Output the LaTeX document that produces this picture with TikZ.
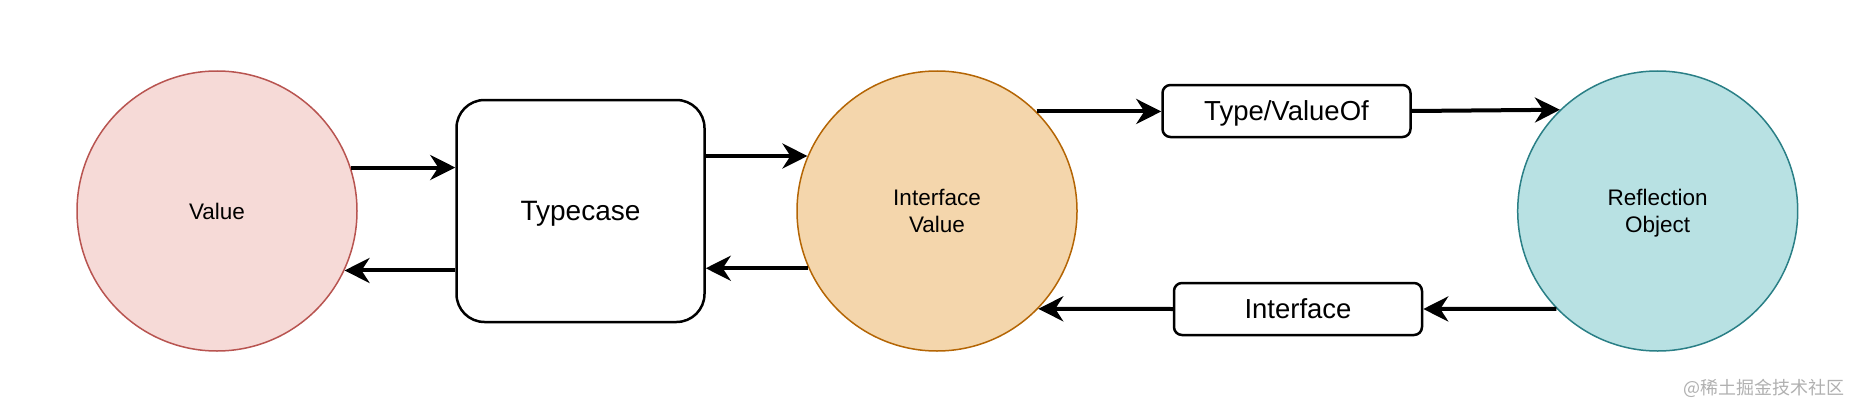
\documentclass[tikz,border=0pt]{standalone}
\usepackage{fontspec}
\setmainfont{Liberation Sans}
\newfontfamily\cjk{Noto Sans CJK SC}
\usetikzlibrary{arrows.meta}
\definecolor{valfill}{HTML}{F6DAD7}
\definecolor{valdraw}{HTML}{B85450}
\definecolor{ivfill}{HTML}{F4D6AC}
\definecolor{ivdraw}{HTML}{B46504}
\definecolor{rofill}{HTML}{B8E1E3}
\definecolor{rodraw}{HTML}{2A7F86}
\definecolor{wmgray}{HTML}{B0B0B0}
\tikzset{
  circ/.style={circle, draw, line width=1.5pt, minimum size=280pt, inner sep=0pt, align=center,
    text depth=0pt, font=\fontsize{22.5}{27}\selectfont},
  bigbox/.style={rectangle, rounded corners=28pt, draw, line width=2.5pt, minimum width=248pt,
    minimum height=222pt, text depth=0pt, font=\fontsize{28}{32}\selectfont},
  smallbox/.style={rectangle, rounded corners=8pt, draw, line width=2.5pt, minimum width=248pt,
    minimum height=52pt, text depth=0pt, font=\fontsize{27.5}{32}\selectfont},
  arr/.style={line width=4pt, -{Stealth[length=25pt, width=25pt, inset=8pt]}}
}
\begin{document}
\begin{tikzpicture}[x=1pt,y=-1pt]
\useasboundingbox (0,0) rectangle (1862,412);
\node[circ, fill=valfill, draw=valdraw] (val) at (217,211) {Value};
\node[bigbox] (tc) at (580.5,211) {Typecase};
\node[circ, fill=ivfill, draw=ivdraw] (iv) at (937,211) {Interface\\Value};
\node[smallbox] (tv) at (1286.5,111) {Type/ValueOf};
\node[smallbox] (ib) at (1298,309) {Interface};
\node[circ, fill=rofill, draw=rodraw] (ro) at (1657.7,211) {Reflection\\Object};
\node[font=\cjk\fontsize{18}{20}\selectfont, text=wmgray, anchor=east] (wm) at (1848,388) {@稀土掘金技术社区};

\draw[arr] (val.18) -- (val.18 -| tc.west);
\draw[arr] (tc.west |- val.-25) -- (val.-25);
\draw[arr] (tc.east |- iv.157.6) -- (iv.157.6);
\draw[arr] (iv.204) -- (iv.204 -| tc.east);
\draw[arr] (iv.45.8) -- (iv.45.8 -| tv.west);
\draw[arr] (tv.east) -- (ro.134.4);
\draw[arr] (ro.224.4) -- (ib.east);
\draw[arr] (ib.west) -- (iv.-44.4);
\end{tikzpicture}
\end{document}
